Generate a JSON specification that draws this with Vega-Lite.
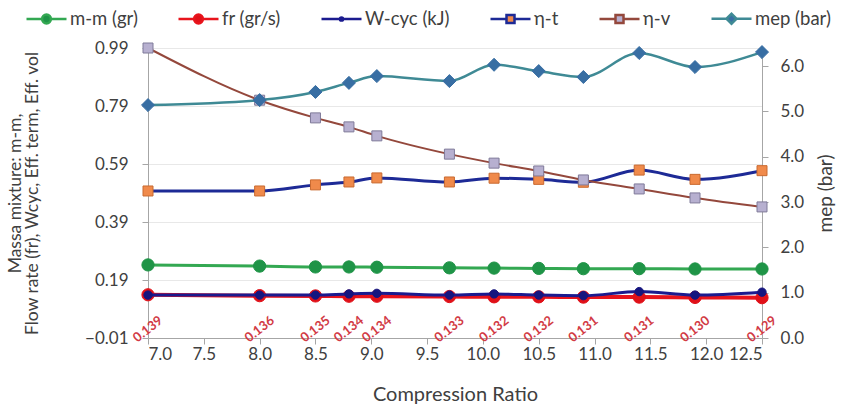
{
  "$schema": "https://vega.github.io/schema/vega-lite/v6.json",
  "width": 614,
  "height": 290,
  "autosize": {"type": "none"},
  "padding": {"left": 148, "top": 48, "right": 87, "bottom": 74},
  "background": "white",
  "config": {
    "font": "Lato",
    "view": {"stroke": null},
    "axis": {
      "labelColor": "#404040",
      "titleColor": "#404040",
      "titleFontWeight": "normal",
      "domainColor": "#a6a6a6",
      "tickColor": "#a6a6a6",
      "labelFontSize": 17,
      "titleFontSize": 19
    }
  },
  "datasets": {
    "d": [
      {"cr": 7.0, "s": "m-m (gr)", "v": 0.242},
      {"cr": 8.0, "s": "m-m (gr)", "v": 0.238},
      {"cr": 8.5, "s": "m-m (gr)", "v": 0.235},
      {"cr": 8.8, "s": "m-m (gr)", "v": 0.235},
      {"cr": 9.05, "s": "m-m (gr)", "v": 0.234},
      {"cr": 9.7, "s": "m-m (gr)", "v": 0.232},
      {"cr": 10.1, "s": "m-m (gr)", "v": 0.231},
      {"cr": 10.5, "s": "m-m (gr)", "v": 0.230},
      {"cr": 10.9, "s": "m-m (gr)", "v": 0.229},
      {"cr": 11.4, "s": "m-m (gr)", "v": 0.229},
      {"cr": 11.9, "s": "m-m (gr)", "v": 0.228},
      {"cr": 12.5, "s": "m-m (gr)", "v": 0.228},
      {"cr": 7.0, "s": "fr (gr/s)", "v": 0.139},
      {"cr": 8.0, "s": "fr (gr/s)", "v": 0.136},
      {"cr": 8.5, "s": "fr (gr/s)", "v": 0.135},
      {"cr": 8.8, "s": "fr (gr/s)", "v": 0.134},
      {"cr": 9.05, "s": "fr (gr/s)", "v": 0.134},
      {"cr": 9.7, "s": "fr (gr/s)", "v": 0.133},
      {"cr": 10.1, "s": "fr (gr/s)", "v": 0.132},
      {"cr": 10.5, "s": "fr (gr/s)", "v": 0.132},
      {"cr": 10.9, "s": "fr (gr/s)", "v": 0.131},
      {"cr": 11.4, "s": "fr (gr/s)", "v": 0.131},
      {"cr": 11.9, "s": "fr (gr/s)", "v": 0.130},
      {"cr": 12.5, "s": "fr (gr/s)", "v": 0.129},
      {"cr": 7.0, "s": "W-cyc (kJ)", "v": 0.138},
      {"cr": 8.0, "s": "W-cyc (kJ)", "v": 0.138},
      {"cr": 8.5, "s": "W-cyc (kJ)", "v": 0.138},
      {"cr": 8.8, "s": "W-cyc (kJ)", "v": 0.142},
      {"cr": 9.05, "s": "W-cyc (kJ)", "v": 0.144},
      {"cr": 9.7, "s": "W-cyc (kJ)", "v": 0.138},
      {"cr": 10.1, "s": "W-cyc (kJ)", "v": 0.142},
      {"cr": 10.5, "s": "W-cyc (kJ)", "v": 0.138},
      {"cr": 10.9, "s": "W-cyc (kJ)", "v": 0.136},
      {"cr": 11.4, "s": "W-cyc (kJ)", "v": 0.150},
      {"cr": 11.9, "s": "W-cyc (kJ)", "v": 0.138},
      {"cr": 12.5, "s": "W-cyc (kJ)", "v": 0.148},
      {"cr": 7.0, "s": "η-t", "v": 0.497},
      {"cr": 8.0, "s": "η-t", "v": 0.497},
      {"cr": 8.5, "s": "η-t", "v": 0.518},
      {"cr": 8.8, "s": "η-t", "v": 0.528},
      {"cr": 9.05, "s": "η-t", "v": 0.542},
      {"cr": 9.7, "s": "η-t", "v": 0.528},
      {"cr": 10.1, "s": "η-t", "v": 0.541},
      {"cr": 10.5, "s": "η-t", "v": 0.537},
      {"cr": 10.9, "s": "η-t", "v": 0.527},
      {"cr": 11.4, "s": "η-t", "v": 0.569},
      {"cr": 11.9, "s": "η-t", "v": 0.537},
      {"cr": 12.5, "s": "η-t", "v": 0.567},
      {"cr": 7.0, "s": "η-v", "v": 0.99},
      {"cr": 8.0, "s": "η-v", "v": 0.81},
      {"cr": 8.5, "s": "η-v", "v": 0.749},
      {"cr": 8.8, "s": "η-v", "v": 0.718},
      {"cr": 9.05, "s": "η-v", "v": 0.687},
      {"cr": 9.7, "s": "η-v", "v": 0.624},
      {"cr": 10.1, "s": "η-v", "v": 0.593},
      {"cr": 10.5, "s": "η-v", "v": 0.566},
      {"cr": 10.9, "s": "η-v", "v": 0.535},
      {"cr": 11.4, "s": "η-v", "v": 0.504},
      {"cr": 11.9, "s": "η-v", "v": 0.473},
      {"cr": 12.5, "s": "η-v", "v": 0.442},
      {"cr": 7.0, "s": "mep (bar)", "v": 5.14},
      {"cr": 8.0, "s": "mep (bar)", "v": 5.25},
      {"cr": 8.5, "s": "mep (bar)", "v": 5.43},
      {"cr": 8.8, "s": "mep (bar)", "v": 5.63},
      {"cr": 9.05, "s": "mep (bar)", "v": 5.78},
      {"cr": 9.7, "s": "mep (bar)", "v": 5.67},
      {"cr": 10.1, "s": "mep (bar)", "v": 6.03},
      {"cr": 10.5, "s": "mep (bar)", "v": 5.89},
      {"cr": 10.9, "s": "mep (bar)", "v": 5.76},
      {"cr": 11.4, "s": "mep (bar)", "v": 6.29},
      {"cr": 11.9, "s": "mep (bar)", "v": 5.98},
      {"cr": 12.5, "s": "mep (bar)", "v": 6.31}
    ]
  },
  "data": {"name": "d"},
  "encoding": {
    "x": {
      "field": "cr",
      "type": "quantitative",
      "scale": {"domain": [7, 12.5], "nice": false, "zero": false},
      "axis": {
        "title": "Compression Ratio",
        "titleFontSize": 20,
        "values": [7, 7.5, 8, 8.5, 9, 9.5, 10, 10.5, 11, 11.5, 12, 12.5],
        "format": ".1f",
        "grid": false,
        "tickSize": 6,
        "labelPadding": 2,
        "titlePadding": 22
      }
    }
  },
  "layer": [
    {
      "encoding": {
        "y": {
          "field": "v",
          "type": "quantitative",
          "scale": {"domain": [-0.01, 0.99], "nice": false, "zero": false},
          "axis": {
            "orient": "left",
            "title": ["Massa mixture: m-m,", "Flow rate (fr), Wcyc, Eff. term, Eff. vol"],
            "titleFontSize": 17.5,
            "titleLineHeight": 17,
            "titlePadding": 43,
            "values": [-0.01, 0.19, 0.39, 0.59, 0.79, 0.99],
            "format": ".2f",
            "tickSize": 6,
            "labelPadding": 14,
            "grid": true,
            "gridColor": "#e8e8e8"
          }
        }
      },
      "layer": [
        {"transform": [{"filter": "datum.s === 'm-m (gr)'"}], "mark": {"type": "line", "color": "#33a852", "strokeWidth": 3, "interpolate": "monotone"}, "encoding": {}},
        {"transform": [{"filter": "datum.s === 'm-m (gr)'"}], "mark": {"type": "point", "shape": "circle", "filled": true, "fill": "#1f9447", "stroke": "#1f9447", "strokeWidth": 1, "size": 150, "opacity": 1}},
        {"transform": [{"filter": "datum.s === 'fr (gr/s)'"}], "mark": {"type": "line", "color": "#e8141c", "strokeWidth": 4, "interpolate": "monotone"}, "encoding": {}},
        {"transform": [{"filter": "datum.s === 'fr (gr/s)'"}], "mark": {"type": "point", "shape": "circle", "filled": true, "fill": "#e01018", "stroke": "#e01018", "strokeWidth": 1, "size": 150, "opacity": 1}},
        {"transform": [{"filter": "datum.s === 'W-cyc (kJ)'"}], "mark": {"type": "line", "color": "#1b1b8f", "strokeWidth": 3, "interpolate": "monotone"}, "encoding": {}},
        {"transform": [{"filter": "datum.s === 'W-cyc (kJ)'"}], "mark": {"type": "point", "shape": "circle", "filled": true, "fill": "#15157f", "stroke": "#15157f", "strokeWidth": 1, "size": 70, "opacity": 1}},
        {"transform": [{"filter": "datum.s === 'η-t'"}], "mark": {"type": "line", "color": "#1d2a96", "strokeWidth": 3, "interpolate": "monotone"}, "encoding": {}},
        {"transform": [{"filter": "datum.s === 'η-t'"}], "mark": {"type": "point", "shape": "square", "filled": true, "fill": "#f08a4b", "stroke": "#c96a30", "strokeWidth": 1, "size": 100, "opacity": 1}},
        {"transform": [{"filter": "datum.s === 'η-v'"}], "mark": {"type": "line", "color": "#94483c", "strokeWidth": 2, "interpolate": "monotone"}, "encoding": {}},
        {"transform": [{"filter": "datum.s === 'η-v'"}], "mark": {"type": "point", "shape": "square", "filled": true, "fill": "#b7b0d0", "stroke": "#7f7a99", "strokeWidth": 1, "size": 100, "opacity": 1}},
        {
          "transform": [{"filter": "datum.s === 'fr (gr/s)'"}],
          "mark": {"type": "text", "angle": 322, "fontSize": 13, "fontWeight": "bold", "color": "#d23a44", "align": "center", "baseline": "middle"},
          "encoding": {"y": {"datum": 0.02}, "text": {"field": "v", "type": "quantitative", "format": ".3f"}}
        }
      ]
    },
    {
      "encoding": {
        "y": {
          "field": "v",
          "type": "quantitative",
          "scale": {"domain": [0, 6.4], "nice": false, "zero": false},
          "axis": {
            "orient": "right",
            "title": "mep (bar)",
            "titleAngle": 270,
            "titleBaseline": "top",
            "titlePadding": 13,
            "values": [0, 1, 2, 3, 4, 5, 6],
            "format": ".1f",
            "tickSize": 6,
            "labelPadding": 12,
            "grid": false
          }
        }
      },
      "layer": [
        {"transform": [{"filter": "datum.s === 'mep (bar)'"}], "mark": {"type": "line", "color": "#3f8a95", "strokeWidth": 2.5, "interpolate": "monotone"}, "encoding": {}},
        {"transform": [{"filter": "datum.s === 'mep (bar)'"}], "mark": {"type": "point", "shape": "diamond", "filled": true, "fill": "#386ea3", "stroke": "#386ea3", "strokeWidth": 1, "size": 170, "opacity": 1}}
      ]
    },
    {
      "transform": [{"filter": "false"}],
      "mark": {"type": "point", "filled": true, "opacity": 1},
      "encoding": {
        "stroke": {
          "field": "s", "type": "nominal",
          "scale": {"domain": ["m-m (gr)", "fr (gr/s)", "W-cyc (kJ)", "η-t", "η-v", "mep (bar)"], "range": ["#33a852", "#e8141c", "#1b1b8f", "#1d2a96", "#94483c", "#3f8a95"]},
          "legend": {"orient": "none", "legendX": -123, "legendY": -51, "direction": "horizontal", "columns": 6, "title": null, "symbolSize": 1600, "symbolStrokeWidth": 2.5, "labelFontSize": 18.5, "labelColor": "#404040", "columnPadding": 35, "labelOffset": 2, "labelLimit": 300}
        },
        "fill": {
          "field": "s", "type": "nominal",
          "scale": {"domain": ["m-m (gr)", "fr (gr/s)", "W-cyc (kJ)", "η-t", "η-v", "mep (bar)"], "range": ["#1f9447", "#e01018", "#15157f", "#f08a4b", "#b7b0d0", "#386ea3"]},
          "legend": {"orient": "none", "legendX": -123, "legendY": -51, "direction": "horizontal", "columns": 6, "title": null, "symbolSize": 1600, "symbolStrokeWidth": 2.5, "labelFontSize": 18.5, "labelColor": "#404040", "columnPadding": 35, "labelOffset": 2, "labelLimit": 300}
        },
        "shape": {
          "field": "s", "type": "nominal",
          "scale": {"domain": ["m-m (gr)", "fr (gr/s)", "W-cyc (kJ)", "η-t", "η-v", "mep (bar)"], "range": [
            "M-1,0H-0.22M0.22,0H1M0.22,0A0.22,0.22,0,1,1,-0.22,0A0.22,0.22,0,1,1,0.22,0Z",
            "M-1,0H-0.22M0.22,0H1M0.22,0A0.22,0.22,0,1,1,-0.22,0A0.22,0.22,0,1,1,0.22,0Z",
            "M-1,0H1M0.08,0A0.08,0.08,0,1,1,-0.08,0A0.08,0.08,0,1,1,0.08,0Z",
            "M-1,0H-0.2M0.2,0H1M-0.2,-0.2H0.2V0.2H-0.2Z",
            "M-1,0H-0.2M0.2,0H1M-0.2,-0.2H0.2V0.2H-0.2Z",
            "M-1,0H-0.25M0.25,0H1M-0.25,0L0,-0.25L0.25,0L0,0.25Z"
          ]},
          "legend": {"orient": "none", "legendX": -123, "legendY": -51, "direction": "horizontal", "columns": 6, "title": null, "symbolSize": 1600, "symbolStrokeWidth": 2.5, "labelFontSize": 18.5, "labelColor": "#404040", "columnPadding": 35, "labelOffset": 2, "labelLimit": 300}
        }
      }
    }
  ],
  "resolve": {"scale": {"y": "independent"}}
}
